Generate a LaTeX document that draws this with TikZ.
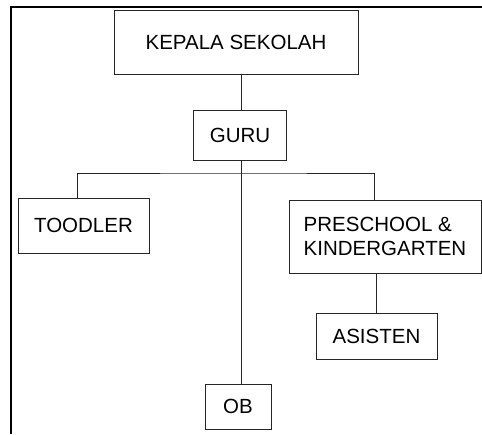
\documentclass[tikz,border=0pt]{standalone}
\usepackage{fontspec}
\setmainfont{Liberation Sans}

\tikzset{
  unit/.style={draw=black!85, line width=0.9pt, inner sep=0pt,
    font=\fontsize{20.5}{24}\selectfont},
  link/.style={draw=black!85, line width=0.9pt}
}

\begin{document}
\begin{tikzpicture}[x=1pt,y=1pt]

  \useasboundingbox (0,0) rectangle (482,434);

%%%%%%%%%%%%%%%%%%%%%%%%%%%%%%%%%%%%%%%%%%
  % Frame (top and left only)
  \draw[line width=1.8pt] (11,0) |- (482,427);

%%%%%%%%%%%%%%%%%%%%%%%%%%%%%%%%%%%%%%%%%%
  % Boxes
  \node[unit, minimum width=244, minimum height=64] (kepala) at (236,392) {KEPALA SEKOLAH};
  \node[unit, minimum width=93, minimum height=50] (guru) at (240,299) {GURU};
  \node[unit, minimum width=131, minimum height=55] (toodler) at (83.5,208.5) {TOODLER};
  \node[unit, minimum width=192, minimum height=73, align=left] (preschool) at (385,197.5)
    {PRESCHOOL \&\\KINDERGARTEN};
  \node[unit, minimum width=121, minimum height=46] (asisten) at (376.5,98) {ASISTEN};
  \node[unit, minimum width=66, minimum height=45] (ob) at (238,27.5) {OB};

%%%%%%%%%%%%%%%%%%%%%%%%%%%%%%%%%%%%%%%%%%
  % Connectors
  \coordinate (bus) at (241,261);

  \draw[link] ([xshift=1pt]guru.north) -- ([xshift=1pt]guru.north |- kepala.south);
  \draw[link] ([xshift=1.5pt]guru.south) -- ([xshift=1.5pt]guru.south |- ob.north);
  \draw[link] ([xshift=-6.5pt]toodler.north) |- (bus) -| ([xshift=-11pt]preschool.north);
  \draw[link] (asisten.north) -- (asisten.north |- preschool.south);

\end{tikzpicture}
\end{document}
